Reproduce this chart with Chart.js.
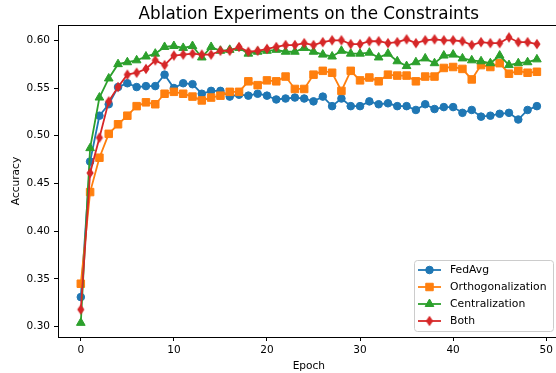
<!DOCTYPE html>
<html>
<head>
<meta charset="utf-8">
<title>Ablation Experiments on the Constraints</title>
<script src="https://cdn.jsdelivr.net/npm/chart.js@4.4.1/dist/chart.umd.min.js"></script>
<style>
    html, body { margin: 0; padding: 0; background: #fff; overflow: hidden; }
    #wrap { width: 566px; height: 373px; }
</style>
</head>
<body>
<div id="wrap"><canvas id="ablationChart" width="566" height="373"></canvas></div>
<script>
// Accuracy per epoch for each training variant
const epochs = Array.from({ length: 50 }, (_, i) => i);

const fedAvg = [
    0.331, 0.473, 0.521, 0.533, 0.551, 0.555, 0.551, 0.552, 0.552, 0.564,
    0.550, 0.555, 0.554, 0.544, 0.547, 0.547, 0.541, 0.543, 0.542, 0.544,
    0.542, 0.538, 0.539, 0.540, 0.539, 0.536, 0.541, 0.531, 0.539, 0.531,
    0.531, 0.536, 0.533, 0.534, 0.531, 0.531, 0.527, 0.533, 0.528, 0.530,
    0.530, 0.524, 0.527, 0.520, 0.521, 0.523, 0.524, 0.517, 0.527, 0.531
];
const orthogonalization = [
    0.345, 0.441, 0.477, 0.502, 0.512, 0.521, 0.531, 0.535, 0.533, 0.544,
    0.546, 0.544, 0.541, 0.537, 0.540, 0.542, 0.546, 0.546, 0.557, 0.553,
    0.558, 0.557, 0.562, 0.549, 0.549, 0.564, 0.568, 0.566, 0.547, 0.568,
    0.558, 0.561, 0.557, 0.564, 0.563, 0.563, 0.557, 0.562, 0.562, 0.571,
    0.572, 0.570, 0.559, 0.574, 0.572, 0.576, 0.565, 0.568, 0.566, 0.567
];
const centralization = [
    0.304, 0.487, 0.540, 0.560, 0.575, 0.577, 0.579, 0.583, 0.586, 0.593,
    0.594, 0.592, 0.594, 0.582, 0.593, 0.589, 0.590, 0.592, 0.586, 0.588,
    0.589, 0.590, 0.588, 0.588, 0.592, 0.588, 0.585, 0.583, 0.589, 0.586,
    0.586, 0.587, 0.582, 0.586, 0.578, 0.573, 0.577, 0.581, 0.576, 0.584,
    0.585, 0.581, 0.579, 0.578, 0.576, 0.584, 0.574, 0.576, 0.577, 0.580
];
const both = [
    0.318, 0.461, 0.498, 0.536, 0.551, 0.564, 0.566, 0.570, 0.579, 0.574,
    0.584, 0.585, 0.586, 0.585, 0.585, 0.589, 0.589, 0.593, 0.588, 0.589,
    0.591, 0.593, 0.595, 0.595, 0.597, 0.595, 0.598, 0.600, 0.600, 0.596,
    0.596, 0.599, 0.599, 0.597, 0.598, 0.601, 0.597, 0.600, 0.601, 0.600,
    0.600, 0.599, 0.595, 0.598, 0.597, 0.597, 0.603, 0.598, 0.598, 0.596
];

const xTicks = [0, 10, 20, 30, 40, 50];
const yTicks = [0.30, 0.35, 0.40, 0.45, 0.50, 0.55, 0.60];

const FONT = "'DejaVu Sans', sans-serif";

// matplotlib-style thin diamond ('d') marker
function thinDiamond(color) {
    const c = document.createElement('canvas');
    c.width = 12;
    c.height = 12;
    const g = c.getContext('2d');
    g.fillStyle = color;
    g.beginPath();
    g.moveTo(6, 0.8);
    g.lineTo(9.6, 6);
    g.lineTo(6, 11.2);
    g.lineTo(2.4, 6);
    g.closePath();
    g.fill();
    return c;
}

function series(label, values, color, pointStyle, radius, order) {
    return {
        label: label,
        data: epochs.map((e, i) => ({ x: e, y: values[i] })),
        borderColor: color,
        backgroundColor: color,
        pointBackgroundColor: color,
        pointBorderColor: color,
        pointBorderWidth: 1,
        pointStyle: pointStyle,
        pointRadius: radius,
        pointHoverRadius: radius,
        borderWidth: 1.8,
        tension: 0,
        fill: false,
        order: order
    };
}

const datasets = [
    series('FedAvg', fedAvg, '#1f77b4', 'circle', 3.8, 3),
    series('Orthogonalization', orthogonalization, '#ff7f0e', 'rect', 5.3, 2),
    series('Centralization', centralization, '#2ca02c', 'triangle', 5, 1),
    series('Both', both, '#d62728', thinDiamond('#d62728'), 5, 0)
];

// Title, axis labels, frame and legend box
const decorations = {
    id: 'decorations',
    afterDraw(chart) {
        const ctx = chart.ctx;
        const area = chart.chartArea;
        ctx.save();

        // top and right spines
        ctx.strokeStyle = '#000';
        ctx.lineWidth = 1;
        ctx.strokeRect(area.left + 0.5, area.top + 0.5, area.right - area.left - 1, area.bottom - area.top);

        ctx.fillStyle = '#000';
        ctx.textAlign = 'center';
        ctx.textBaseline = 'alphabetic';
        ctx.font = '16.8px ' + FONT;
        ctx.fillText('Ablation Experiments on the Constraints', (area.left + area.right) / 2, 18.5);

        ctx.font = '10.6px ' + FONT;
        ctx.fillText('Epoch', (area.left + area.right) / 2, 368.5);

        ctx.save();
        ctx.translate(18.5, (area.top + area.bottom) / 2);
        ctx.rotate(-Math.PI / 2);
        ctx.fillText('Accuracy', 0, 0);
        ctx.restore();

        // legend
        const bx = 414.5, by = 260.5, bw = 139, bh = 71;
        ctx.beginPath();
        ctx.roundRect(bx, by, bw, bh, 3);
        ctx.fillStyle = 'rgba(255,255,255,0.8)';
        ctx.fill();
        ctx.strokeStyle = '#cccccc';
        ctx.lineWidth = 1;
        ctx.stroke();

        const rowY = [270, 287, 304, 321];
        chart.data.datasets.forEach((ds, i) => {
            const y = rowY[i];
            ctx.strokeStyle = ds.borderColor;
            ctx.lineWidth = ds.borderWidth;
            ctx.beginPath();
            ctx.moveTo(418, y);
            ctx.lineTo(441, y);
            ctx.stroke();

            ctx.fillStyle = ds.pointBackgroundColor;
            ctx.strokeStyle = ds.pointBorderColor;
            ctx.lineWidth = ds.pointBorderWidth;
            if (Chart.helpers && Chart.helpers.drawPoint) {
                Chart.helpers.drawPoint(ctx, {
                    pointStyle: ds.pointStyle,
                    radius: ds.pointRadius,
                    rotation: 0,
                    borderWidth: ds.pointBorderWidth
                }, 429.5, y);
            }

            ctx.fillStyle = '#000';
            ctx.textAlign = 'left';
            ctx.textBaseline = 'middle';
            ctx.font = '10.8px ' + FONT;
            ctx.fillText(ds.label, 450, y + 0.5);
        });

        ctx.restore();
    }
};

new Chart(document.getElementById('ablationChart'), {
    type: 'line',
    data: { datasets: datasets },
    options: {
        responsive: false,
        animation: false,
        events: [],
        layout: { padding: { top: 25, right: 5, left: 0, bottom: 0 } },
        scales: {
            x: {
                type: 'linear',
                min: -2.45,
                max: 51.45,
                afterBuildTicks: (scale) => { scale.ticks = xTicks.map(v => ({ value: v })); },
                afterFit: (scale) => { scale.height = 36; },
                grid: { drawOnChartArea: false, drawTicks: true, tickLength: 4, color: '#000', lineWidth: 1 },
                border: { display: true, color: '#000', width: 1 },
                ticks: {
                    padding: 3,
                    color: '#000',
                    maxRotation: 0,
                    font: { family: FONT, size: 10.5 },
                    callback: (v) => String(v)
                }
            },
            y: {
                type: 'linear',
                min: 0.2892,
                max: 0.6160,
                afterBuildTicks: (scale) => { scale.ticks = yTicks.map(v => ({ value: v })); },
                afterFit: (scale) => { scale.width = 58; },
                grid: { drawOnChartArea: false, drawTicks: true, tickLength: 4, color: '#000', lineWidth: 1 },
                border: { display: true, color: '#000', width: 1 },
                ticks: {
                    padding: 4,
                    color: '#000',
                    font: { family: FONT, size: 10.5 },
                    callback: (v) => Number(v).toFixed(2)
                }
            }
        },
        plugins: {
            legend: { display: false },
            title: { display: false },
            tooltip: { enabled: false }
        }
    },
    plugins: [decorations]
});
</script>
</body>
</html>
